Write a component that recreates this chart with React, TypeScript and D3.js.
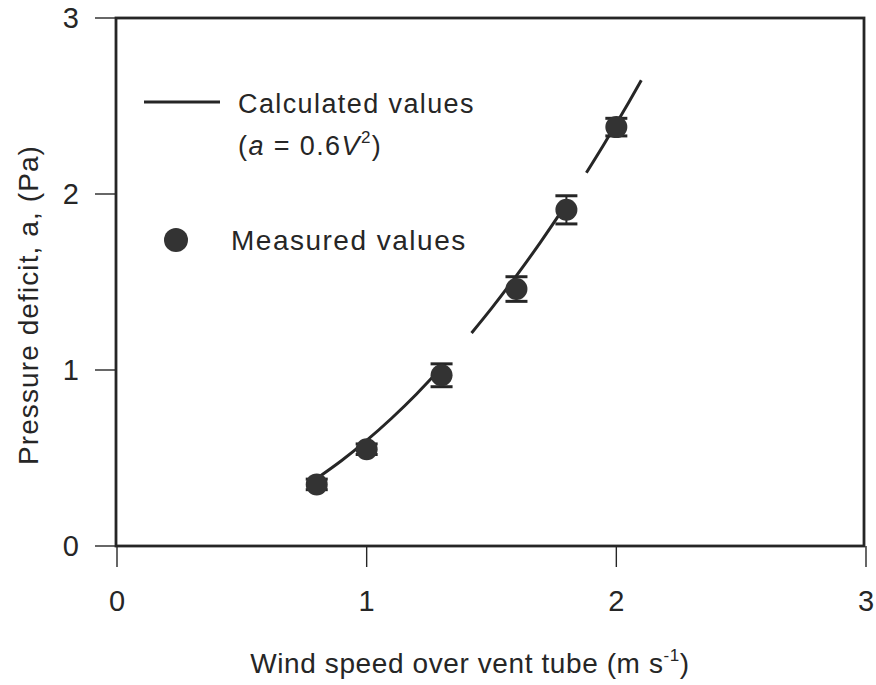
import React from "react";
import * as d3 from "d3";

const measuredV = [0.8, 1.0, 1.3, 1.6, 1.8, 2.0];
const measuredA = [0.35, 0.55, 0.97, 1.46, 1.91, 2.38];
const measuredErr = [0.03, 0.03, 0.065, 0.07, 0.08, 0.05];

// calculated curve a = 0.6 V^2, drawn in three visible pieces
const calcSegments: number[][] = [
  [0.8, 0.9, 1.0, 1.1, 1.2, 1.3],
  [1.42, 1.5, 1.6, 1.7, 1.8],
  [1.88, 1.95, 2.0, 2.05, 2.1],
];
const calcCoef = 0.6;

const xTicks = [0, 1, 2, 3];
const yTicks = [0, 1, 2, 3];

const W = 876;
const H = 685;
const M = { left: 116, right: 866, top: 18, bottom: 546 };
const FRAME_RIGHT = 864;
const FONT = "'Liberation Sans', Arial, sans-serif";
const INK = "#262626";

export default function App() {
  const x = d3.scaleLinear().domain([0, 3]).range([M.left + 1, M.right]);
  const y = d3.scaleLinear().domain([0, 3]).range([M.bottom, M.top]);
  const line = d3
    .line<number>()
    .x((v) => x(v))
    .y((v) => y(calcCoef * v * v))
    .curve(d3.curveMonotoneX);

  return (
    <svg
      width={W}
      height={H}
      style={{ position: "absolute", left: 0, top: 0, background: "#fff" }}
      fontFamily={FONT}
    >
      {/* y ticks */}
      {yTicks.map((t) => (
        <g key={"y" + t}>
          <line x1={M.left - 21} x2={M.left} y1={y(t)} y2={y(t)} stroke={INK} strokeWidth={1.4} />
          <text x={79} y={y(t) + 10} textAnchor="end" fontSize={29} fill={INK}>
            {t}
          </text>
        </g>
      ))}
      {/* x ticks */}
      {xTicks.map((t) => (
        <g key={"x" + t}>
          <line x1={x(t)} x2={x(t)} y1={M.bottom} y2={M.bottom + 21} stroke={INK} strokeWidth={1.4} />
          <text x={x(t)} y={611} textAnchor="middle" fontSize={29} fill={INK}>
            {t}
          </text>
        </g>
      ))}
      {/* frame */}
      <rect
        x={M.left}
        y={M.top}
        width={FRAME_RIGHT - M.left}
        height={M.bottom - M.top}
        fill="none"
        stroke={INK}
        strokeWidth={2.8}
      />
      {/* axis titles */}
      <text
        transform={`translate(38,${305}) rotate(-90)`}
        textAnchor="middle"
        fontSize={28}
        letterSpacing={1.1}
        fill={INK}
      >
        Pressure deficit, a, (Pa)
      </text>
      <text x={470} y={673} textAnchor="middle" fontSize={28} letterSpacing={0.6} fill={INK}>
        Wind speed over vent tube (m s
        <tspan dy={-12} fontSize={17}>-1</tspan>
        <tspan dy={12}>)</tspan>
      </text>

      {/* calculated curve */}
      {calcSegments.map((seg, i) => (
        <path key={"c" + i} d={line(seg) || ""} fill="none" stroke={INK} strokeWidth={3} />
      ))}

      {/* measured values */}
      {measuredV.map((v, i) => {
        const cx = x(v);
        const cy = y(measuredA[i]);
        const top = y(measuredA[i] + measuredErr[i]);
        const bot = y(measuredA[i] - measuredErr[i]);
        return (
          <g key={"m" + i}>
            <line x1={cx} x2={cx} y1={top} y2={bot} stroke={INK} strokeWidth={2} />
            <line x1={cx - 11} x2={cx + 11} y1={top} y2={top} stroke={INK} strokeWidth={3} />
            <line x1={cx - 11} x2={cx + 11} y1={bot} y2={bot} stroke={INK} strokeWidth={3} />
            <circle cx={cx} cy={cy} r={11} fill="#333" />
          </g>
        );
      })}

      {/* legend */}
      <line x1={144} x2={220} y1={102} y2={102} stroke={INK} strokeWidth={3.2} />
      <text x={238} y={113} fontSize={27} letterSpacing={1.4} fill={INK}>
        Calculated values
      </text>
      <text x={238} y={155} fontSize={27} letterSpacing={1.4} fill={INK}>
        (<tspan fontStyle="italic">a</tspan> = 0.6<tspan fontStyle="italic">V</tspan>
        <tspan dy={-12} fontSize={17}>2</tspan>
        <tspan dy={12}>)</tspan>
      </text>
      <circle cx={176} cy={240} r={12} fill="#333" />
      <text x={231} y={250} fontSize={28} letterSpacing={1.5} fill={INK}>
        Measured values
      </text>
    </svg>
  );
}
